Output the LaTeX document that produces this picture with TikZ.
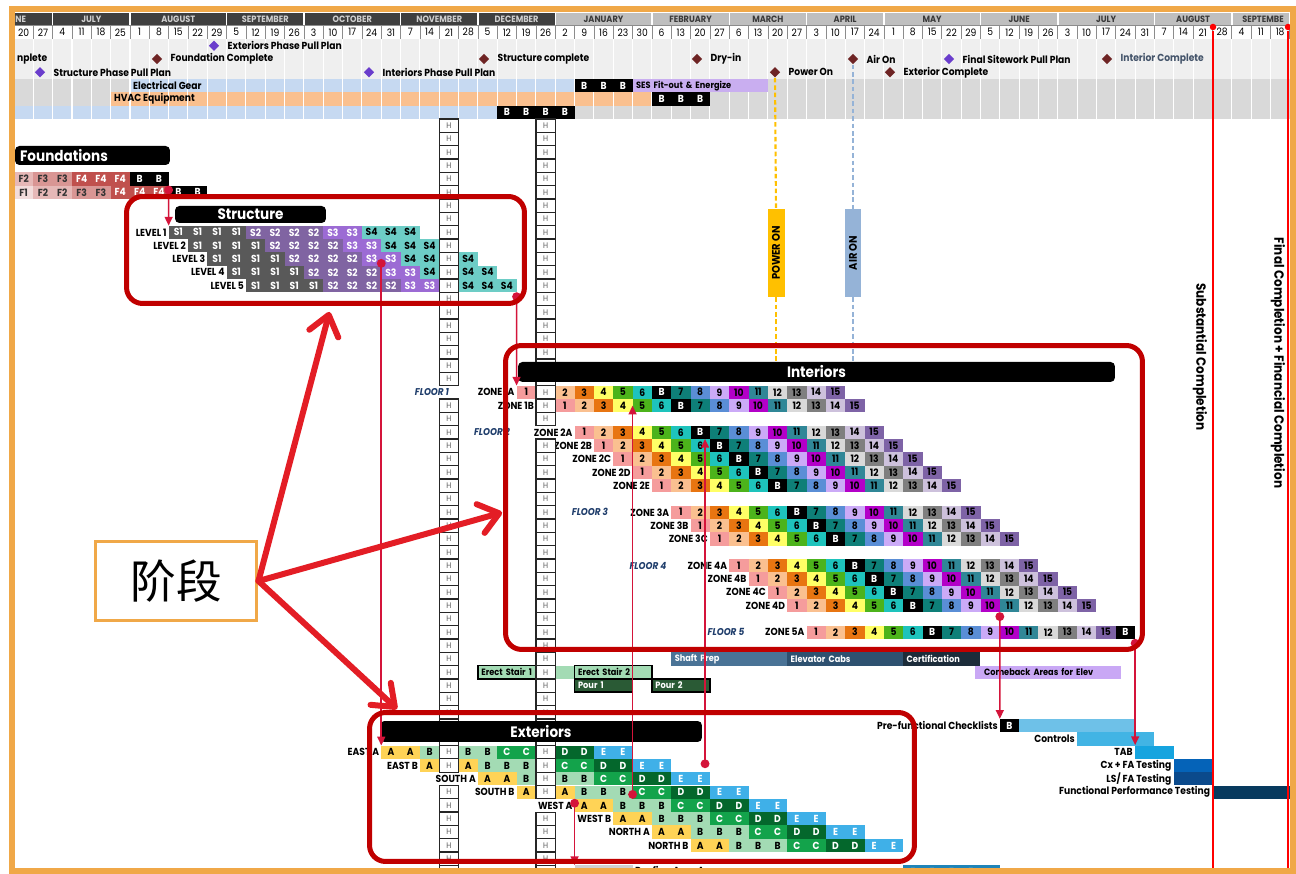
\documentclass[tikz,border=0pt]{standalone}
\usepackage{fontspec}
\setmainfont{Poppins}[FakeStretch=0.9]
\newfontfamily\cjk{Noto Sans CJK SC}
\usepackage{xcolor}
\usepackage{tikz}
\usetikzlibrary{shapes.geometric,arrows.meta,positioning,calc}
% calendar header
\definecolor{frameorange}{HTML}{F0A848}
\definecolor{monthdark}{HTML}{3F3F3F}
\definecolor{monthdarktext}{HTML}{D0D0D0}
\definecolor{monthlight}{HTML}{BFBFBF}
\definecolor{monthlighttext}{HTML}{3A3A3A}
\definecolor{msband}{HTML}{EFEFEF}
\definecolor{bandgray}{HTML}{D9D9D9}
\definecolor{bandblue}{HTML}{C6D9F1}
\definecolor{bandpeach}{HTML}{FAC08F}
\definecolor{seslav}{HTML}{C9AEF0}
\definecolor{mspurple}{HTML}{6A3DCC}
\definecolor{msred}{HTML}{6E2424}
\definecolor{msgray}{HTML}{44546A}
% phases
\definecolor{fnd1c}{HTML}{F2DCDB}
\definecolor{fnd2c}{HTML}{E6B8B7}
\definecolor{fnd3c}{HTML}{D99694}
\definecolor{fnd4c}{HTML}{C0504D}
\definecolor{str1c}{HTML}{595959}
\definecolor{str2c}{HTML}{8064A2}
\definecolor{str3c}{HTML}{9C6BD4}
\definecolor{str4c}{HTML}{6DCDC6}
\definecolor{int1c}{HTML}{F59C9C}
\definecolor{int2c}{HTML}{FAC090}
\definecolor{int3c}{HTML}{E87511}
\definecolor{int4c}{HTML}{FFFF66}
\definecolor{int5c}{HTML}{4CB31B}
\definecolor{int6c}{HTML}{1EC3BC}
\definecolor{int7c}{HTML}{0E7F78}
\definecolor{int8c}{HTML}{5A8ED6}
\definecolor{int9c}{HTML}{CBAAF7}
\definecolor{int10c}{HTML}{B300C8}
\definecolor{int11c}{HTML}{308797}
\definecolor{int12c}{HTML}{D9D9D9}
\definecolor{int13c}{HTML}{7F7F7F}
\definecolor{int14c}{HTML}{CDC1DC}
\definecolor{int15c}{HTML}{7E63A6}
\definecolor{extAc}{HTML}{FFD356}
\definecolor{extBc}{HTML}{A3DBB4}
\definecolor{extCc}{HTML}{13A34B}
\definecolor{extDc}{HTML}{04672C}
\definecolor{extEc}{HTML}{3FB0E8}
\definecolor{pourc}{HTML}{2A5A35}
\definecolor{shaftc}{HTML}{4A7396}
\definecolor{cabsc}{HTML}{2E5170}
\definecolor{certc}{HTML}{1C2C3A}
\definecolor{comebackc}{HTML}{C9A8F5}
\definecolor{cxprefunc}{HTML}{6EC1E8}
\definecolor{cxcontrols}{HTML}{42B4E4}
\definecolor{cxtab}{HTML}{16A4DF}
\definecolor{cxfa}{HTML}{0563B8}
\definecolor{cxls}{HTML}{0B4A8C}
\definecolor{cxfpt}{HTML}{083A5E}
\definecolor{roofgray}{HTML}{D0D0D0}
\definecolor{roofblue}{HTML}{1F84B8}
\definecolor{powerc}{HTML}{FFC000}
\definecolor{airc}{HTML}{95B3D7}
\definecolor{compred}{HTML}{FF0000}
\definecolor{zonered}{HTML}{C00000}
\definecolor{arrowred}{HTML}{E31D25}
\definecolor{depred}{HTML}{D4143A}
\definecolor{floorblue}{HTML}{1F3D6B}
\newcommand{\cellfont}{\fontsize{5.8}{6}\selectfont\bfseries}
\newcommand{\hfont}{\fontsize{4.6}{5}\selectfont}
\newcommand{\msfont}{\fontsize{5.8}{6}\selectfont\bfseries}
\newcommand{\titlefont}{\fontsize{8.6}{9}\selectfont\bfseries}
\newcommand{\dayfont}{\fontsize{5.8}{6}\selectfont}
\newcommand{\monthfont}{\fontsize{5.2}{6}\selectfont\bfseries}
\newcommand{\barfont}{\fontsize{5.2}{6}\selectfont\bfseries}
\newcommand{\sidefont}{\fontsize{7.6}{8}\selectfont\bfseries}
\newcommand{\floorfont}{\fontsize{5.6}{6}\selectfont\bfseries\itshape}
\tikzset{
  cell/.style={minimum width=0.3866cm,minimum height=0.2666cm,inner sep=0pt,outer sep=0pt,font=\cellfont},
  hcell/.style={cell,draw=black!85,line width=0.75pt,fill=white,text=black!65,font=\hfont},
  lbl/.style={font=\cellfont,anchor=east,inner sep=1pt},
  floorlbl/.style={font=\floorfont,text=floorblue,inner sep=0pt},
  month/.style={draw=white,line width=0.8pt,minimum height=0.2666cm,inner sep=0pt,font=\monthfont},
  mdark/.style={fill=monthdark,text=monthdarktext},
  mlight/.style={fill=monthlight,text=monthlighttext},
  day/.style={draw=black!45,line width=0.4pt,fill=white,minimum width=0.3866cm,minimum height=0.2666cm,inner sep=0pt,font=\dayfont},
  msd/.style={diamond,aspect=1,minimum size=0.21cm,inner sep=0pt},
  mstext/.style={font=\msfont,inner sep=1pt},
  titlebar/.style={fill=black,text=white,rounded corners=2.5pt,font=\titlefont,inner sep=0pt},
  barbox/.style={minimum height=0.2666cm,inner xsep=2pt,inner ysep=0pt,align=left,font=\barfont},
  stairbar/.style={fill=extBc,draw=black,line width=0.8pt},
  pourbar/.style={fill=pourc,draw=black,line width=0.8pt,text=white},
  fndF1/.style={fill=fnd1c,text=black!80},
  fndF2/.style={fill=fnd2c,text=black!80},
  fndF3/.style={fill=fnd3c,text=black!80},
  fndF4/.style={fill=fnd4c,text=white},
  fndB/.style={fill=black,text=white},
  strS1/.style={fill=str1c,text=white},
  strS2/.style={fill=str2c,text=white},
  strS3/.style={fill=str3c,text=white},
  strS4/.style={fill=str4c,text=black},
  strH/.style={hcell},
  int1/.style={fill=int1c},
  int2/.style={fill=int2c},
  int3/.style={fill=int3c},
  int4/.style={fill=int4c},
  int5/.style={fill=int5c},
  int6/.style={fill=int6c},
  intB/.style={fill=black,text=white},
  int7/.style={fill=int7c},
  int8/.style={fill=int8c},
  int9/.style={fill=int9c},
  int10/.style={fill=int10c},
  int11/.style={fill=int11c},
  int12/.style={fill=int12c},
  int13/.style={fill=int13c},
  int14/.style={fill=int14c},
  int15/.style={fill=int15c},
  intH/.style={hcell},
  extA/.style={fill=extAc},
  extB/.style={fill=extBc},
  extC/.style={fill=extCc,text=white},
  extD/.style={fill=extDc,text=white},
  extE/.style={fill=extEc,text=white},
  extH/.style={hcell},
  roofE/.style={fill=roofblue,text=white!70!roofblue},
  zone/.style={draw=zonered,line width=0.1cm,rounded corners=0.32cm,inner sep=0pt},
  phasebox/.style={draw=frameorange,line width=0.06cm,fill=white,minimum width=3.24cm,minimum height=1.6cm},
  bigarrow/.style={draw=arrowred,line width=0.12cm,line cap=round,-{Straight Barb[length=11pt,width=17pt,round]}},
  depline/.style={draw=depred,line width=0.9pt,{Circle[length=5pt]}-{Triangle[length=5pt,width=4.5pt]}},
  compline/.style={draw=compred,line width=1.6pt},
  compdot/.style={circle,fill=compred,inner sep=0pt,minimum size=0.13cm},
  powerline/.style={draw=powerc,line width=1.2pt,dash pattern=on 2.6pt off 1.6pt},
  airline/.style={draw=airc,line width=1.2pt,dash pattern=on 2.6pt off 1.6pt},
  flagbox/.style={rotate=90,minimum width=1.76cm,minimum height=0.34cm,inner sep=0pt,font=\fontsize{6.3}{7}\selectfont\bfseries},
}
% one row of weekly cells: row, first column, style prefix, label, cells
\newcommand{\taskrow}[5]{%
  \foreach \t [count=\idx from 0] in {#5} {%
    \pgfmathtruncatemacro{\cc}{#2+\idx}%
    \node[cell,#3\t] (c#1-\cc) at ({\gx+\cw*(\cc+0.5)},{\gy+\rh*(#1+0.5)}) {\t};%
  }%
  \node[lbl] (l#1) at (c#1-#2.west) {#4};%
}
% a bar over several columns: name, row, first column, columns, style, text
\newcommand{\spanbar}[6]{%
  \pgfmathsetmacro{\bw}{#4*0.3866*28.45274-4}%
  \node[barbox,#5,text width=\bw pt] (#1) at ({\gx+\cw*(#3+#4/2)},{\gy+\rh*(#2+0.5)}) {#6};%
}
\begin{document}
\begin{tikzpicture}[x=0.02cm,y=-0.02cm]
  \def\gx{14}\def\gy{119}\def\cw{19.33}\def\rh{13.33}
  \useasboundingbox (0,0) rectangle (1296,874);
  \clip (0,0) rectangle (1296,874);
  \fill[white] (0,0) rectangle (1296,874);

  % months and weeks
  \foreach \mname/\ms/\mn/\mst in {{}/0/2/mdark,JULY/2/4/mdark,AUGUST/6/5/mdark,SEPTEMBER/11/4/mdark,OCTOBER/15/5/mdark,NOVEMBER/20/4/mdark,DECEMBER/24/4/mdark,JANUARY/28/5/mlight,FEBRUARY/33/4/mlight,MARCH/37/4/mlight,APRIL/41/4/mlight,MAY/45/5/mlight,JUNE/50/4/mlight,JULY/54/5/mlight,AUGUST/59/4/mlight,{}/63/3/mlight}
    \node[month,\mst,minimum width=\mn*0.3866cm] (mo\ms) at ({\gx+\cw*(\ms+\mn/2)},19) {\mname};
  \node[font=\monthfont,text=monthdarktext,anchor=west,inner sep=0pt] (mojune) at (15,19) {NE};
  \node[font=\monthfont,text=monthlighttext,anchor=west,inner sep=0pt] (mosept) at (1242,19) {SEPTEMBE};
  \foreach \d [count=\idx from 0] in {20,27,4,11,18,25,1,8,15,22,29,5,12,19,26,3,10,17,24,31,7,14,21,28,5,12,19,26,2,9,16,23,30,6,13,20,27,6,13,20,27,3,10,17,24,1,8,15,22,29,5,12,19,26,3,10,17,24,31,7,14,21,28,4,11,18}
    \node[day] (d\idx) at ({\gx+\cw*(\idx+0.5)},32.3) {\d};

  % milestone and procurement bands
  \fill[msband] (\gx,39) rectangle (1290,79);
  \fill[bandgray] (\gx,79) rectangle ({\gx+\cw*6},92.3);
  \fill[bandblue] ({\gx+\cw*6},79) rectangle ({\gx+\cw*29},92.3);
  \fill[bandgray] ({\gx+\cw*39},79) rectangle (1290,92.3);
  \fill[bandgray] (\gx,92.3) rectangle ({\gx+\cw*5},105.7);
  \fill[bandpeach] ({\gx+\cw*5},92.3) rectangle ({\gx+\cw*33},105.7);
  \fill[bandgray] ({\gx+\cw*36},92.3) rectangle (1290,105.7);
  \fill[bandblue] (\gx,105.7) rectangle ({\gx+\cw*25},119);
  \fill[bandgray] ({\gx+\cw*29},105.7) rectangle (1290,119);
  \foreach \i in {1,...,65}
    \draw[white,line width=0.6pt] ({\gx+\cw*\i},39) -- ({\gx+\cw*\i},119);
  \taskrow{-3}{29}{fnd}{}{B,B,B}
  \spanbar{ses}{-3}{32}{7}{fill=seslav}{SES Fit-out \& Energize}
  \taskrow{-2}{33}{fnd}{}{B,B,B}
  \taskrow{-1}{25}{fnd}{}{B,B,B,B}
  \node[mstext,anchor=west] (elecgear) at (131,85.7) {Electrical Gear};
  \node[mstext,anchor=west] (hvac) at (112,99) {HVAC Equipment};
  \node[mstext,anchor=west] (msleft) at (15,59) {nplete};
  \foreach \mname/\mx/\my/\mc/\mtc/\mt in {extpull/214/45.7/mspurple/black/Exteriors Phase Pull Plan,fndcomp/157/59/msred/black/Foundation Complete,strcomp/484/59/msred/black/Structure complete,dryin/697/59/msred/black/Dry-in,airon/853/59/msred/black/Air On,sitepull/949/59/mspurple/black/Final Sitework Pull Plan,intcomp/1107/59/msred/msgray/Interior Complete,strpull/40/72.3/mspurple/black/Structure Phase Pull Plan,intpull/369/72.3/mspurple/black/Interiors Phase Pull Plan,poweron/775/72.3/msred/black/Power On,extcomp/890/72.3/msred/black/Exterior Complete} {
    \node[msd,fill=\mc] (ms\mname) at (\mx,\my) {};
    \node[mstext,text=\mtc,right=0.12cm of ms\mname] (mt\mname) {\mt};
  }

  % foundations
  \node[titlebar,minimum width=3.1cm,minimum height=0.38cm,text width=2.9cm,inner xsep=0.1cm,align=left] (fndbar) at (92.5,155.5) {Foundations};
  \taskrow{4}{0}{fnd}{}{F2,F3,F3,F4,F4,F4,B,B}
  \taskrow{5}{0}{fnd}{}{F1,F2,F2,F3,F3,F4,F4,F4,B,B}

  % structure
  \node[titlebar,minimum width=3.02cm,minimum height=0.34cm] (strbar) at (250.5,214.5) {Structure};
  \taskrow{8}{8}{str}{LEVEL 1}{S1,S1,S1,S1,S2,S2,S2,S2,S3,S3,S4,S4,S4}
  \taskrow{9}{9}{str}{LEVEL 2}{S1,S1,S1,S1,S2,S2,S2,S2,S3,S3,S4,S4,S4,H}
  \taskrow{10}{10}{str}{LEVEL 3}{S1,S1,S1,S1,S2,S2,S2,S2,S3,S3,S4,S4,H,S4}
  \taskrow{11}{11}{str}{LEVEL 4}{S1,S1,S1,S1,S2,S2,S2,S2,S3,S3,S4,H,S4,S4}
  \taskrow{12}{12}{str}{LEVEL 5}{S1,S1,S1,S1,S2,S2,S2,S2,S3,S3,H,S4,S4,S4}

  % interiors
  \taskrow{20}{26}{int}{ZONE 1A}{1,H,2,3,4,5,6,B,7,8,9,10,11,12,13,14,15}
  \taskrow{21}{27}{int}{ZONE 1B}{H,1,2,3,4,5,6,B,7,8,9,10,11,12,13,14,15}
  \taskrow{23}{29}{int}{ZONE 2A}{1,2,3,4,5,6,B,7,8,9,10,11,12,13,14,15}
  \taskrow{24}{30}{int}{ZONE 2B}{1,2,3,4,5,6,B,7,8,9,10,11,12,13,14,15}
  \taskrow{25}{31}{int}{ZONE 2C}{1,2,3,4,5,6,B,7,8,9,10,11,12,13,14,15}
  \taskrow{26}{32}{int}{ZONE 2D}{1,2,3,4,5,6,B,7,8,9,10,11,12,13,14,15}
  \taskrow{27}{33}{int}{ZONE 2E}{1,2,3,4,5,6,B,7,8,9,10,11,12,13,14,15}
  \taskrow{29}{34}{int}{ZONE 3A}{1,2,3,4,5,6,B,7,8,9,10,11,12,13,14,15}
  \taskrow{30}{35}{int}{ZONE 3B}{1,2,3,4,5,6,B,7,8,9,10,11,12,13,14,15}
  \taskrow{31}{36}{int}{ZONE 3C}{1,2,3,4,5,6,B,7,8,9,10,11,12,13,14,15}
  \taskrow{33}{37}{int}{ZONE 4A}{1,2,3,4,5,6,B,7,8,9,10,11,12,13,14,15}
  \taskrow{34}{38}{int}{ZONE 4B}{1,2,3,4,5,6,B,7,8,9,10,11,12,13,14,15}
  \taskrow{35}{39}{int}{ZONE 4C}{1,2,3,4,5,6,B,7,8,9,10,11,12,13,14,15}
  \taskrow{36}{40}{int}{ZONE 4D}{1,2,3,4,5,6,B,7,8,9,10,11,12,13,14,15}
  \taskrow{38}{41}{int}{ZONE 5A}{1,2,3,4,5,6,B,7,8,9,10,11,12,13,14,15,B}
  \node[floorlbl] (floor1) at (432,392.3) {FLOOR 1};
  \node[floorlbl] (floor2) at (492,432.3) {FLOOR 2};
  \node[floorlbl] (floor3) at (590,512.3) {FLOOR 3};
  \node[floorlbl] (floor4) at (648,565.6) {FLOOR 4};
  \node[floorlbl] (floor5) at (726,632.2) {FLOOR 5};

  % stairs, pours, elevators
  \spanbar{stair1}{41}{24}{3}{stairbar}{Erect Stair 1}
  \spanbar{stairgap}{41}{28}{1}{fill=extBc}{}
  \spanbar{stair2}{41}{29}{4}{stairbar}{Erect Stair 2}
  \spanbar{pour1}{42}{29}{3}{pourbar}{Pour 1}
  \spanbar{pour2}{42}{33}{3}{pourbar}{Pour 2}
  \spanbar{shaft}{40}{34}{6}{fill=shaftc,text=white}{Shaft Prep}
  \spanbar{cabs}{40}{40}{6}{fill=cabsc,text=white}{Elevator Cabs}
  \spanbar{cert}{40}{46}{4}{fill=certc,text=white}{Certification}
  \spanbar{comeback}{41}{50}{7}{fill=comebackc,inner xsep=5pt}{Comeback Areas for Elev}

  % commissioning
  \taskrow{45}{51}{fnd}{Pre-functional Checklists}{B}
  \spanbar{prefunc}{45}{52}{6}{fill=cxprefunc}{}
  \spanbar{controls}{46}{55}{4}{fill=cxcontrols}{}
  \spanbar{tab}{47}{58}{2}{fill=cxtab}{}
  \spanbar{cxfa}{48}{60}{2}{fill=cxfa}{}
  \spanbar{lsfa}{49}{60}{2}{fill=cxls}{}
  \spanbar{fpt}{50}{62}{4}{fill=cxfpt}{}
  \node[lbl] (lcontrols) at (controls.west) {Controls};
  \node[lbl] (ltab) at (tab.west) {TAB};
  \node[lbl] (lcxfa) at (cxfa.west) {Cx + FA Testing};
  \node[lbl] (llsfa) at (lsfa.west) {LS/ FA Testing};
  \node[lbl] (lfpt) at (fpt.west) {Functional Performance Testing};

  % exteriors
  \taskrow{47}{19}{ext}{EAST A}{A,A,B,H,B,B,C,C,H,D,D,E,E}
  \taskrow{48}{21}{ext}{EAST B}{A,H,A,B,B,B,H,C,C,D,D,E,E}
  \taskrow{49}{24}{ext}{SOUTH A}{A,A,B,H,B,B,C,C,D,D,E,E}
  \taskrow{50}{26}{ext}{SOUTH B}{A,H,A,B,B,B,C,C,D,D,E,E}
  \taskrow{51}{29}{ext}{WEST A}{A,A,B,B,B,C,C,D,D,E,E}
  \taskrow{52}{31}{ext}{WEST B}{A,A,B,B,B,C,C,D,D,E,E}
  \taskrow{53}{33}{ext}{NORTH A}{A,A,B,B,B,C,C,D,D,E,E}
  \taskrow{54}{35}{ext}{NORTH B}{A,A,B,B,B,C,C,D,D,E,E}

  % roofing
  \spanbar{roofa}{56}{29}{3}{fill=roofgray}{}
  \node[lbl,anchor=west] (lroof) at (roofa.east) {Roofing Area A};
  \taskrow{56}{46}{roof}{}{E,E,E,E}
  \spanbar{roofb}{56}{50}{1}{fill=roofblue}{}

  % holiday columns
  \foreach \r in {0,...,56} {
    \ifnum\r=20 \else\ifnum\r=49 \else
      \node[hcell] (ha\r) at ({\gx+\cw*22.5},{\gy+\rh*(\r+0.5)}) {H};
    \fi\fi
    \ifnum\r=23 \else\ifnum\r=51 \else
      \node[hcell] (hb\r) at ({\gx+\cw*27.5},{\gy+\rh*(\r+0.5)}) {H};
    \fi\fi
  }
  \node[titlebar,minimum width=11.94cm,minimum height=0.4cm] (intbar) at (816.5,372) {Interiors};
  \node[titlebar,minimum width=6.44cm,minimum height=0.42cm] (extbar) at (541,731.5) {Exteriors};

  % power on / air on
  \node[flagbox,fill=powerc] (powerbox) at (776,253) {POWER ON};
  \node[flagbox,fill=airc,minimum height=0.32cm] (airbox) at (853,253) {AIR ON};
  \draw[powerline] (mspoweron.south) -- (powerbox.east);
  \draw[powerline] (powerbox.west) -- (powerbox.west |- intbar.north);
  \draw[airline] (msairon.south) -- (airbox.east);
  \draw[airline] (airbox.west) -- (airbox.west |- intbar.north);

  % dependencies
  \draw[depline] (c4-7.south east) -- (c8-8.north west);
  \draw[depline] (c10-19.west) -- (c10-19.west |- c47-19.north);
  \draw[depline] (c12-25.south east) -- (c20-26.north west);
  \draw[depline] (c51-29.north west) -- (c51-29.north west |- roofa.north);
  \draw[depline] (c51-32.north west) -- (c21-32.west);
  \draw[depline] ($(c49-35.north)!.5!(c49-35.north east)+(0,-4)$) -- ($(c24-35.north)!.5!(c24-35.north east)$);
  \draw[depline] (c36-50.south east) -- (c45-51.north west);
  \draw[depline] (c38-57.south east) -- (c38-57.south east |- tab.north);

  % completion lines
  \node[compdot] (subdot) at (1213,27) {};
  \node[compdot] (findot) at (1288,27) {};
  \coordinate (subend) at (1213,874);
  \coordinate (finend) at (1288,874);
  \draw[compline] (subdot) -- (subend);
  \draw[compline] (findot) -- (finend);
  \node[font=\sidefont,rotate=-90] (subtext) at (1200,357) {Substantial Completion};
  \node[font=\sidefont,rotate=-90] (fintext) at (1278,363) {Final Completion + Financial Completion};

  % phase boxes
  \node[zone,minimum width=7.96cm,minimum height=2.14cm] (zstruct) at (325.5,250) {};
  \node[zone,minimum width=12.74cm,minimum height=6.08cm] (zint) at (824,497.5) {};
  \node[zone,minimum width=10.9cm,minimum height=2.98cm] (zext) at (642,787) {};
  \node[phasebox] (phase) at (176,581) {\cjk\fontsize{26}{30}\selectfont 阶段};
  \draw[bigarrow] (phase.east) -- ($(zstruct.south)+(4,6)$);
  \draw[bigarrow] (phase.east) -- ($(zint.west)+(-1,15)$);
  \draw[bigarrow] (phase.east) -- ($(zext.north west)+(30,-1)$);

  % frame
  \draw[frameorange,line width=0.12cm] (12,9) rectangle (1293,871);
\end{tikzpicture}
\end{document}
